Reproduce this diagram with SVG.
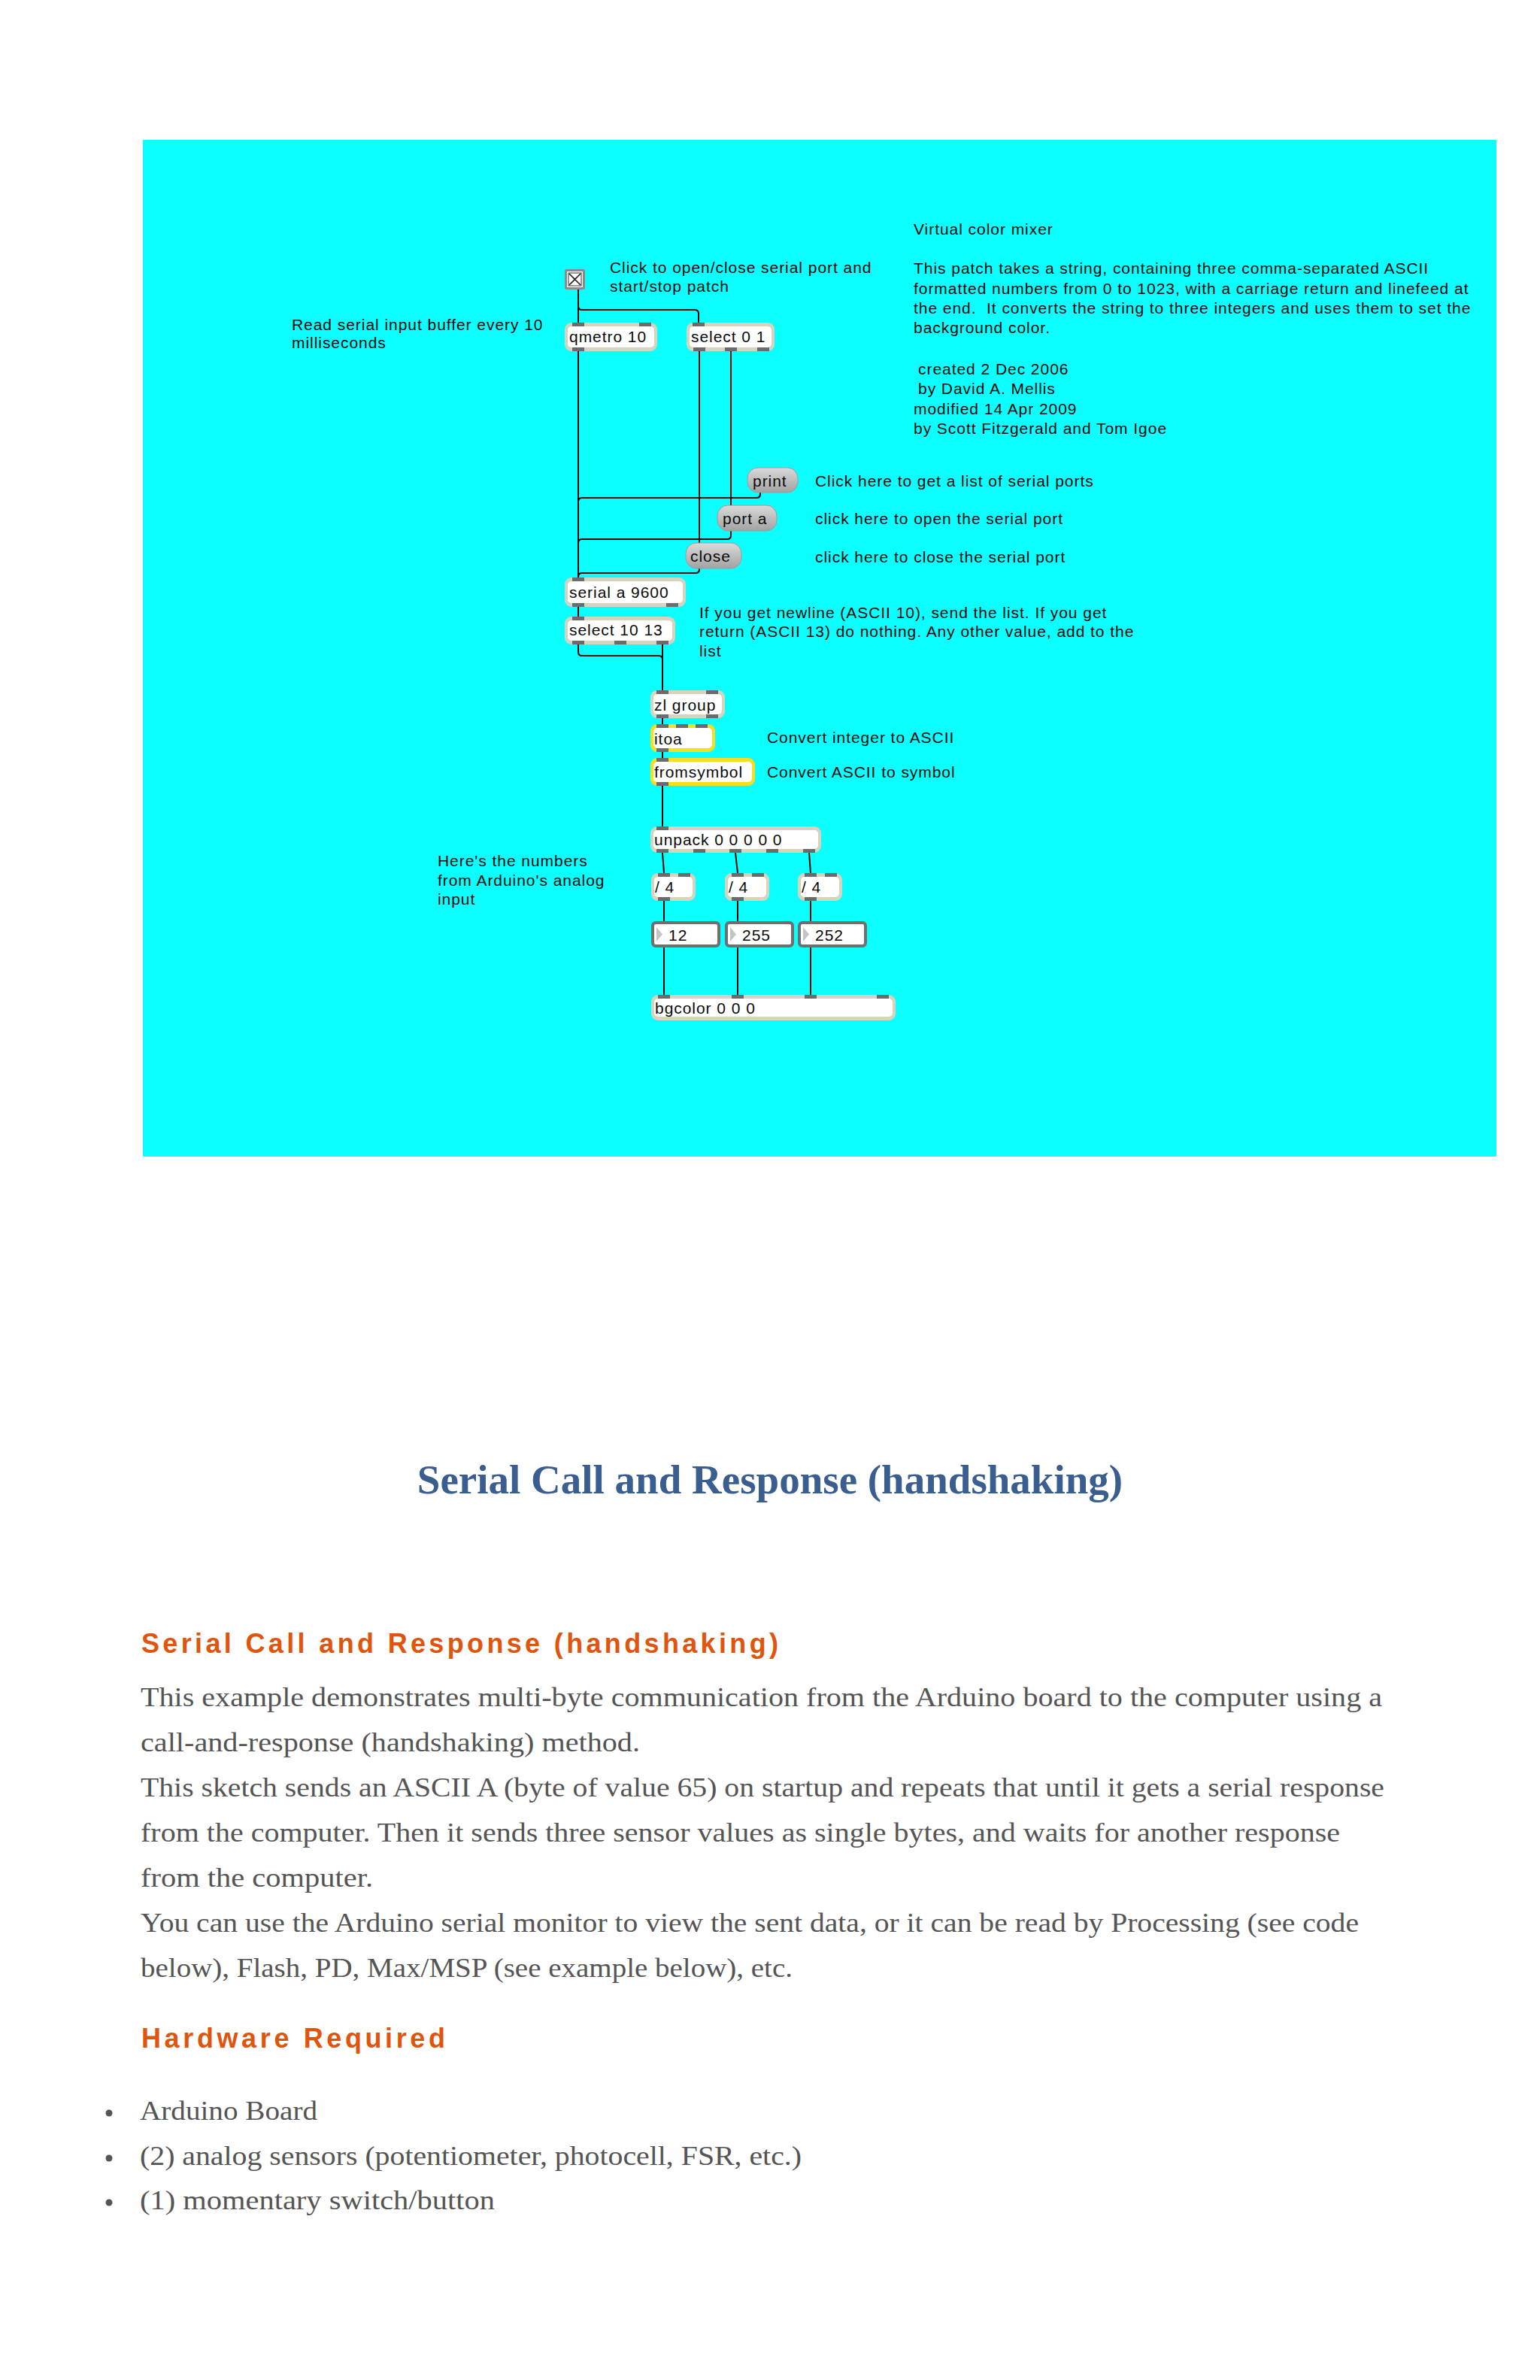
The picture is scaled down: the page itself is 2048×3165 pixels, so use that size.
<svg xmlns="http://www.w3.org/2000/svg" width="2048" height="3165" viewBox="0 0 2048 3165">
<defs>
<linearGradient id="msg" x1="0" y1="0" x2="0" y2="1">
<stop offset="0" stop-color="#dadada"/>
<stop offset="1" stop-color="#a2a2a2"/>
</linearGradient>
<style>
.t{font-family:"Liberation Sans",Arial,sans-serif;font-size:21px;letter-spacing:0.95px;fill:#0a0a0a}
.ob{fill:#d6d4be}
.oy{fill:#f7de1e}
.in{fill:#fff}
.io{fill:#6b6b6b}
.nb{fill:#fff;stroke:#6f6f6f;stroke-width:4}
.tri{fill:#c4c4c4}
.mb{fill:url(#msg);stroke:#9c9c9c;stroke-width:1}
.wire{fill:none;stroke:#000;stroke-width:2}
.body{font-family:"Liberation Serif","Times New Roman",serif;font-size:36px;fill:#555}
.h2{font-family:"Liberation Sans",Arial,sans-serif;font-weight:bold;font-size:36px;fill:#e0550d}
.h1{font-family:"Liberation Serif","Times New Roman",serif;font-weight:bold;font-size:55px;fill:#3b5e91}
</style>
</defs>
<rect x="0" y="0" width="2048" height="3165" fill="#fff"/>
<rect id="patch-bg" x="190" y="186" width="1800" height="1352" fill="#0cffff"/>

<g id="comments">
<text class="t" x="811" y="363">Click to open/close serial port and</text>
<text class="t" x="811" y="388">start/stop patch</text>
<text class="t" x="388" y="439">Read serial input buffer every 10</text>
<text class="t" x="388" y="463">milliseconds</text>
<text class="t" x="1215" y="312">Virtual color mixer</text>
<text class="t" x="1215" y="364">This patch takes a string, containing three comma-separated ASCII</text>
<text class="t" x="1215" y="391">formatted numbers from 0 to 1023, with a carriage return and linefeed at</text>
<text class="t" x="1215" y="417" xml:space="preserve">the end.  It converts the string to three integers and uses them to set the</text>
<text class="t" x="1215" y="443">background color.</text>
<text class="t" x="1221" y="498">created 2 Dec 2006</text>
<text class="t" x="1221" y="524">by David A. Mellis</text>
<text class="t" x="1215" y="551">modified 14 Apr 2009</text>
<text class="t" x="1215" y="577">by Scott Fitzgerald and Tom Igoe</text>
<text class="t" x="1084" y="647">Click here to get a list of serial ports</text>
<text class="t" x="1084" y="697">click here to open the serial port</text>
<text class="t" x="1084" y="748">click here to close the serial port</text>
<text class="t" x="930" y="822">If you get newline (ASCII 10), send the list. If you get</text>
<text class="t" x="930" y="847">return (ASCII 13) do nothing. Any other value, add to the</text>
<text class="t" x="930" y="873">list</text>
<text class="t" x="1020" y="988">Convert integer to ASCII</text>
<text class="t" x="1020" y="1034">Convert ASCII to symbol</text>
<text class="t" x="582" y="1152">Here's the numbers</text>
<text class="t" x="582" y="1178">from Arduino's analog</text>
<text class="t" x="582" y="1203">input</text>
</g>

<g id="connectors">
<path class="wire" d="M769,385 V429"/>
<path class="wire" d="M769,385 V407 Q769,412 774,412 H924 Q929,412 929,417 V429"/>
<path class="wire" d="M769,467 V768"/>
<path class="wire" d="M930,467 V722"/>
<path class="wire" d="M972,467 V672"/>
<path class="wire" d="M1011,655 V657 Q1011,662 1006,662 H774 Q769,662 769,667 V768"/>
<path class="wire" d="M972,706 V712 Q972,717 967,717 H774 Q769,717 769,722 V768"/>
<path class="wire" d="M930,756 V757 Q930,762 925,762 H774 Q769,762 769,767 V768"/>
<path class="wire" d="M769,807 V820"/>
<path class="wire" d="M769,857 V867 Q769,872 774,872 H876 Q881,872 881,877 V918"/>
<path class="wire" d="M881,857 V918"/>
<path class="wire" d="M881,955 V963"/>
<path class="wire" d="M881,1000 V1008"/>
<path class="wire" d="M881,1045 V1099"/>
<path class="wire" d="M881,1134 L883,1161"/>
<path class="wire" d="M978,1134 L981,1161"/>
<path class="wire" d="M1076,1134 L1078,1161"/>
<path class="wire" d="M883,1198 V1225"/>
<path class="wire" d="M981,1198 V1225"/>
<path class="wire" d="M1078,1198 V1225"/>
<path class="wire" d="M883,1260 V1323"/>
<path class="wire" d="M981,1260 V1323"/>
<path class="wire" d="M1078,1260 V1323"/>
</g>

<g id="toggle">
<rect x="751" y="358" width="27" height="27" rx="3" fill="#8a8a8a"/>
<rect x="754" y="361" width="21" height="21" fill="#fff"/>
<rect x="756" y="363" width="17" height="17" fill="none" stroke="#333" stroke-width="1"/>
<path d="M757,364 L772,379 M772,364 L757,379" stroke="#222" stroke-width="1.6"/>
</g>

<g id="qmetro">
<rect class="ob" x="751" y="429" width="123" height="38" rx="9"/>
<rect class="in" x="755" y="434" width="115" height="28" rx="5"/>
<rect class="io" x="761" y="429" width="16" height="5"/>
<rect class="io" x="850" y="429" width="16" height="5"/>
<rect class="io" x="761" y="462" width="16" height="5"/>
<text class="t" x="757" y="455">qmetro 10</text>
</g>

<g id="select01">
<rect class="ob" x="913" y="429" width="117" height="38" rx="9"/>
<rect class="in" x="917" y="434" width="109" height="28" rx="5"/>
<rect class="io" x="921" y="429" width="16" height="5"/>
<rect class="io" x="922" y="462" width="16" height="5"/>
<rect class="io" x="964" y="462" width="16" height="5"/>
<rect class="io" x="1007" y="462" width="16" height="5"/>
<text class="t" x="919" y="455">select 0 1</text>
</g>

<g id="msg-print">
<rect class="mb" x="994" y="622" width="67" height="33" rx="14"/>
<text class="t" x="1001" y="647">print</text>
</g>
<g id="msg-port">
<rect class="mb" x="954" y="672" width="79" height="34" rx="14"/>
<text class="t" x="961" y="697">port a</text>
</g>
<g id="msg-close">
<rect class="mb" x="912" y="722" width="74" height="34" rx="14"/>
<text class="t" x="918" y="747">close</text>
</g>

<g id="serial">
<rect class="ob" x="751" y="768" width="161" height="39" rx="9"/>
<rect class="in" x="755" y="773" width="153" height="29" rx="5"/>
<rect class="io" x="761" y="768" width="16" height="5"/>
<rect class="io" x="761" y="802" width="16" height="5"/>
<rect class="io" x="886" y="802" width="16" height="5"/>
<text class="t" x="757" y="795">serial a 9600</text>
</g>

<g id="select1013">
<rect class="ob" x="751" y="820" width="147" height="37" rx="9"/>
<rect class="in" x="755" y="825" width="139" height="27" rx="5"/>
<rect class="io" x="761" y="820" width="16" height="5"/>
<rect class="io" x="761" y="852" width="16" height="5"/>
<rect class="io" x="817" y="852" width="16" height="5"/>
<rect class="io" x="873" y="852" width="16" height="5"/>
<text class="t" x="757" y="845">select 10 13</text>
</g>

<g id="zlgroup">
<rect class="ob" x="865" y="918" width="99" height="37" rx="9"/>
<rect class="in" x="869" y="923" width="91" height="27" rx="5"/>
<rect class="io" x="873" y="918" width="16" height="5"/>
<rect class="io" x="939" y="918" width="16" height="5"/>
<rect class="io" x="873" y="950" width="16" height="5"/>
<rect class="io" x="939" y="950" width="16" height="5"/>
<text class="t" x="870" y="945">zl group</text>
</g>

<g id="itoa">
<rect class="oy" x="865" y="963" width="86" height="37" rx="9"/>
<rect class="in" x="869" y="968" width="78" height="27" rx="5"/>
<rect class="io" x="873" y="963" width="16" height="5"/>
<rect class="io" x="899" y="963" width="16" height="5"/>
<rect class="io" x="925" y="963" width="16" height="5"/>
<rect class="io" x="873" y="995" width="16" height="5"/>
<text class="t" x="870" y="990">itoa</text>
</g>

<g id="fromsymbol">
<rect class="oy" x="865" y="1008" width="139" height="37" rx="9"/>
<rect class="in" x="869" y="1013" width="131" height="27" rx="5"/>
<rect class="io" x="873" y="1008" width="16" height="5"/>
<rect class="io" x="873" y="1040" width="16" height="5"/>
<text class="t" x="870" y="1034">fromsymbol</text>
</g>

<g id="unpack">
<rect class="ob" x="865" y="1099" width="227" height="35" rx="9"/>
<rect class="in" x="869" y="1104" width="219" height="25" rx="5"/>
<rect class="io" x="873" y="1099" width="16" height="5"/>
<rect class="io" x="873" y="1129" width="16" height="5"/>
<rect class="io" x="922" y="1129" width="16" height="5"/>
<rect class="io" x="970" y="1129" width="16" height="5"/>
<rect class="io" x="1019" y="1129" width="16" height="5"/>
<rect class="io" x="1068" y="1129" width="16" height="5"/>
<text class="t" x="870" y="1124">unpack 0 0 0 0 0</text>
</g>

<g id="div1">
<rect class="ob" x="866" y="1161" width="59" height="37" rx="9"/>
<rect class="in" x="870" y="1166" width="51" height="27" rx="5"/>
<rect class="io" x="875" y="1161" width="16" height="5"/>
<rect class="io" x="902" y="1161" width="16" height="5"/>
<rect class="io" x="875" y="1193" width="16" height="5"/>
<text class="t" x="871" y="1187">/ 4</text>
</g>
<g id="div2">
<rect class="ob" x="964" y="1161" width="59" height="37" rx="9"/>
<rect class="in" x="968" y="1166" width="51" height="27" rx="5"/>
<rect class="io" x="973" y="1161" width="16" height="5"/>
<rect class="io" x="1000" y="1161" width="16" height="5"/>
<rect class="io" x="973" y="1193" width="16" height="5"/>
<text class="t" x="969" y="1187">/ 4</text>
</g>
<g id="div3">
<rect class="ob" x="1061" y="1161" width="59" height="37" rx="9"/>
<rect class="in" x="1065" y="1166" width="51" height="27" rx="5"/>
<rect class="io" x="1070" y="1161" width="16" height="5"/>
<rect class="io" x="1097" y="1161" width="16" height="5"/>
<rect class="io" x="1070" y="1193" width="16" height="5"/>
<text class="t" x="1066" y="1187">/ 4</text>
</g>

<g id="num1">
<rect class="nb" x="868" y="1227" width="88" height="31" rx="4"/>
<polygon class="tri" points="873,1233 881,1242.5 873,1252"/>
<text class="t" x="889" y="1251">12</text>
</g>
<g id="num2">
<rect class="nb" x="966" y="1227" width="88" height="31" rx="4"/>
<polygon class="tri" points="971,1233 979,1242.5 971,1252"/>
<text class="t" x="987" y="1251">255</text>
</g>
<g id="num3">
<rect class="nb" x="1063" y="1227" width="88" height="31" rx="4"/>
<polygon class="tri" points="1068,1233 1076,1242.5 1068,1252"/>
<text class="t" x="1084" y="1251">252</text>
</g>

<g id="bgcolor">
<rect class="ob" x="866" y="1323" width="325" height="34" rx="9"/>
<rect class="in" x="870" y="1328" width="317" height="24" rx="5"/>
<rect class="io" x="875" y="1323" width="16" height="5"/>
<rect class="io" x="973" y="1323" width="16" height="5"/>
<rect class="io" x="1070" y="1323" width="16" height="5"/>
<rect class="io" x="1166" y="1323" width="16" height="5"/>
<text class="t" x="871" y="1348">bgcolor 0 0 0</text>
</g>

<g id="article">
<text class="h1" x="1024" y="1986" text-anchor="middle">Serial Call and Response (handshaking)</text>
<text class="h2" x="188" y="2198" textLength="847" lengthAdjust="spacing">Serial Call and Response (handshaking)</text>
<text class="body" x="187" y="2269" textLength="1651" lengthAdjust="spacingAndGlyphs">This example demonstrates multi-byte communication from the Arduino board to the computer using a</text>
<text class="body" x="187" y="2329" textLength="664" lengthAdjust="spacingAndGlyphs">call-and-response (handshaking) method.</text>
<text class="body" x="187" y="2389" textLength="1654" lengthAdjust="spacingAndGlyphs">This sketch sends an ASCII A (byte of value 65) on startup and repeats that until it gets a serial response</text>
<text class="body" x="187" y="2449" textLength="1595" lengthAdjust="spacingAndGlyphs">from the computer. Then it sends three sensor values as single bytes, and waits for another response</text>
<text class="body" x="187" y="2509" textLength="309" lengthAdjust="spacingAndGlyphs">from the computer.</text>
<text class="body" x="187" y="2569" textLength="1620" lengthAdjust="spacingAndGlyphs">You can use the Arduino serial monitor to view the sent data, or it can be read by Processing (see code</text>
<text class="body" x="187" y="2629" textLength="867" lengthAdjust="spacingAndGlyphs">below), Flash, PD, Max/MSP (see example below), etc.</text>
<text class="h2" x="188" y="2723" textLength="404" lengthAdjust="spacing">Hardware Required</text>
<circle cx="145" cy="2810" r="4.5" fill="#555"/>
<circle cx="145" cy="2870" r="4.5" fill="#555"/>
<circle cx="145" cy="2929" r="4.5" fill="#555"/>
<text class="body" x="186" y="2819" textLength="236" lengthAdjust="spacingAndGlyphs">Arduino Board</text>
<text class="body" x="186" y="2879" textLength="880" lengthAdjust="spacingAndGlyphs">(2) analog sensors (potentiometer, photocell, FSR, etc.)</text>
<text class="body" x="186" y="2938" textLength="472" lengthAdjust="spacingAndGlyphs">(1) momentary switch/button</text>
</g>
</svg>
